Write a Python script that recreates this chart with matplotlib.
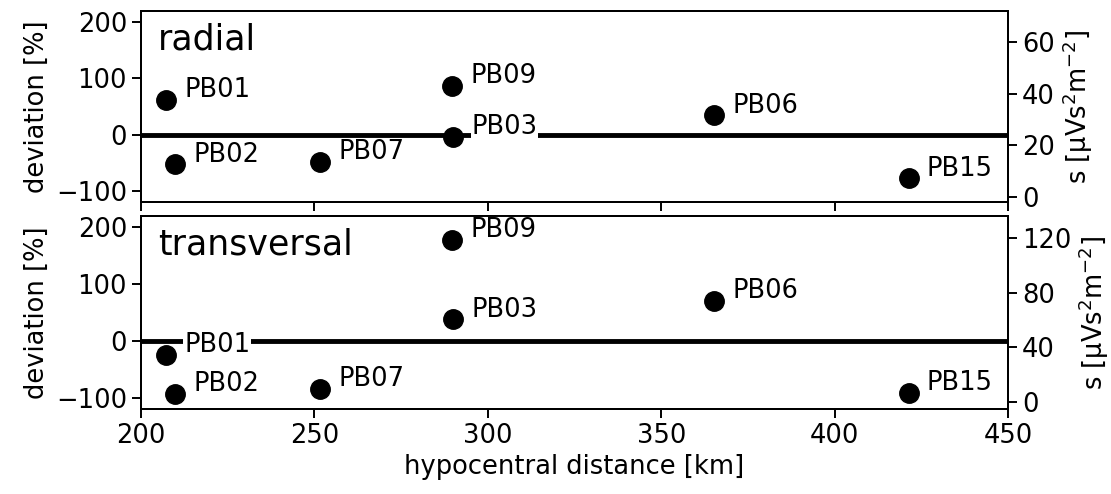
import matplotlib
matplotlib.use("Agg")
import matplotlib.pyplot as plt

# stations and hypocentral distances [km]
stations = ["PB01", "PB02", "PB07", "PB09", "PB03", "PB06", "PB15"]
distance = [207.2, 209.8, 251.7, 289.8, 290.1, 365.3, 421.4]

# deviation from mean [%]
dev_radial = [62, -53, -49, 87, -4, 34, -78]
dev_transversal = [-25, -93, -84, 178, 38, 71, -91]

FS = 18.5
TICK = dict(length=6.5, width=1.4, labelsize=FS)

fig = plt.figure(figsize=(11.11, 4.94), dpi=100)
ax_top = fig.add_axes([0.1269, 0.5911, 0.7804, 0.3866])
ax_bot = fig.add_axes([0.1269, 0.1721, 0.7804, 0.3907], sharex=ax_top)


def panel(ax, dev, title, s_lim, s_ticks):
    ax.axhline(0, color="black", lw=3.5, zorder=1)
    ax.plot(distance, dev, "o", color="black", ms=14, zorder=2)
    for name, x, y in zip(stations, distance, dev):
        ax.annotate(name, (x, y), xytext=(13, 7), textcoords="offset points",
                    ha="left", va="center", fontsize=FS, zorder=3,
                    bbox=dict(facecolor="white", edgecolor="none", pad=0.5))
    ax.text(0.02, 0.80, title, transform=ax.transAxes, fontsize=25,
            va="baseline", ha="left")
    ax.set_ylim(-120, 220)
    ax.set_yticks([-100, 0, 100, 200])
    ax.set_ylabel("deviation [%]", fontsize=FS)
    ax.tick_params(**TICK)
    for sp in ax.spines.values():
        sp.set_linewidth(1.4)

    ax2 = ax.twinx()
    ax2.set_ylim(*s_lim)
    ax2.set_yticks(s_ticks)
    ax2.set_ylabel(r"s [$\mathregular{\mu Vs^2m^{-2}}$]", fontsize=FS)
    ax2.tick_params(**TICK)
    for sp in ax2.spines.values():
        sp.set_linewidth(1.4)
    return ax2


panel(ax_top, dev_radial, "radial", (-1.9, 72), [0, 20, 40, 60])
panel(ax_bot, dev_transversal, "transversal", (-5.1, 136), [0, 40, 80, 120])

ax_top.set_xlim(200, 450)
ax_top.set_xticks([200, 250, 300, 350, 400, 450])
ax_top.tick_params(axis="x", labelbottom=False)
ax_bot.set_xlabel("hypocentral distance [km]", fontsize=FS)

fig.savefig("out.png", dpi=100)
